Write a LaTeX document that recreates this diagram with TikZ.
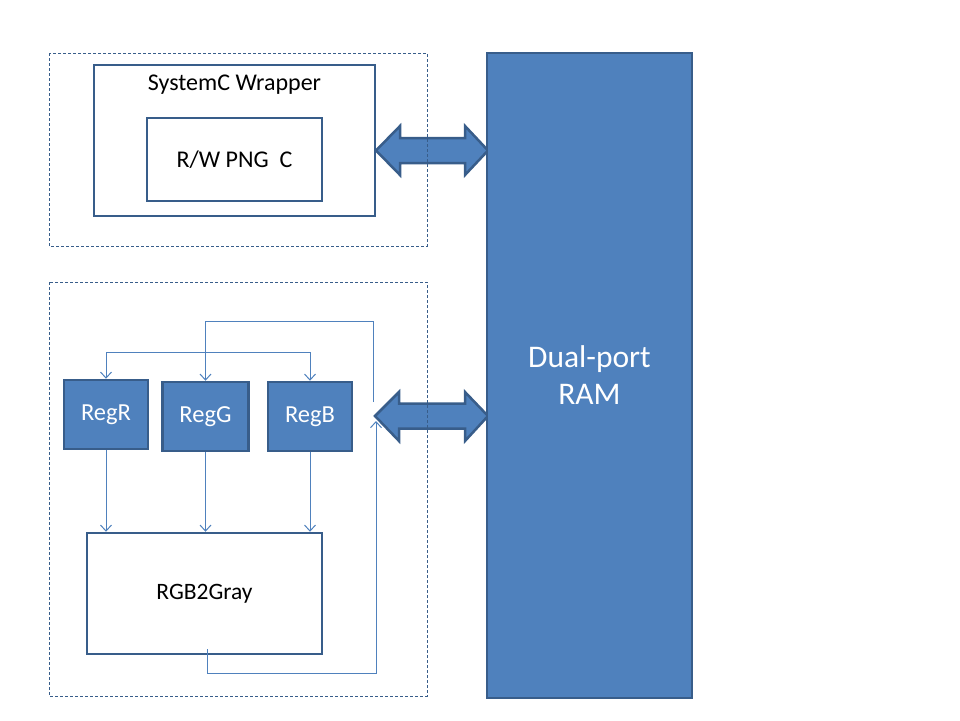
\documentclass[tikz,border=0pt]{standalone}
\usepackage{fontspec}
\setmainfont{Carlito}
\usetikzlibrary{arrows.meta}
\definecolor{fillblue}{HTML}{4F81BD}
\definecolor{edgeblue}{HTML}{385D8A}
\tikzset{
  box/.style={draw=edgeblue, line width=2.5pt, rectangle, inner sep=0pt, align=center},
  regbox/.style={box, fill=fillblue, text=white, font=\fontsize{24.5}{29}\selectfont},
  dashbox/.style={draw=edgeblue, line width=0.9pt, dash pattern=on 3pt off 2pt},
  conn/.style={draw=fillblue, line width=1pt},
  tipv/.style={-{Straight Barb[length=6pt,width=11pt,line width=1pt]}},
  bigarrow/.style={fill=fillblue, draw=edgeblue, line width=2.5pt, line join=miter},
}
\begin{document}
\begin{tikzpicture}[x=1pt,y=-1pt]
\useasboundingbox (0,0) rectangle (960,720);

% big double arrows (drawn under the dashed frames)
\draw[bigarrow] (376,150.5) -- (400,126) -- (400,138) -- (465,138) -- (465,126)
  -- (488,150.5) -- (465,175) -- (465,163) -- (400,163) -- (400,175) -- cycle;
\draw[bigarrow] (375,416) -- (399,392) -- (399,403.5) -- (465,403.5) -- (465,392)
  -- (488,416) -- (465,441) -- (465,428.5) -- (399,428.5) -- (399,441) -- cycle;

% dashed frames
\draw[dashbox] (49,53) rectangle (427,246);
\draw[dashbox] (49,282) rectangle (427,696);

% RAM
\node[box, line width=2pt, fill=fillblue, text=white, minimum width=205pt, minimum height=645pt,
      font=\fontsize{31.5}{37}\selectfont] (ram) at (589.5,375.5) {Dual-port\\RAM};

% SystemC wrapper
\node[box, minimum width=281pt, minimum height=151pt] (wrap) at (234.5,140.5) {};
\node[font=\fontsize{24}{28}\selectfont, inner sep=0pt] (wraplabel) at (234.5,85) {SystemC Wrapper};
\node[box, minimum width=175pt, minimum height=83pt, font=\fontsize{24}{28}\selectfont] (png) at (234.5,159.5) {R/W PNG\ \ C};

% registers
\node[regbox, minimum width=84pt, minimum height=69pt] (regR) at (106,414.5) {RegR};
\node[regbox, minimum width=86pt, minimum height=69pt] (regG) at (205.5,416.5) {RegG};
\node[regbox, minimum width=84pt, minimum height=69pt] (regB) at (310,416.5) {RegB};

% RGB2Gray
\node[box, minimum width=235pt, minimum height=121pt, font=\fontsize{23.5}{28}\selectfont] (gray) at (204.5,593.5) {RGB2Gray};

% connectors
\coordinate (hl) at (106,352);
\coordinate (fbtop) at (373,402);
\coordinate (tr) at (373,321);
\coordinate (fbstart) at (207,649);
\coordinate (fbcorner) at (376,673);
\coordinate (fbend) at (376,421);

\draw[conn, tipv] (hl) -- (regR.north);
\draw[conn, tipv] (hl) -| (regB.north);
\draw[conn, tipv] (fbtop) -- (tr) -| (regG.north);

\draw[conn, tipv] (regR.south) -- (regR.south |- gray.north);
\draw[conn, tipv] (regG.south) -- (regG.south |- gray.north);
\draw[conn, tipv] (regB.south) -- (regB.south |- gray.north);

\draw[conn, tipv] (fbstart) |- (fbcorner) -- (fbend);
\end{tikzpicture}
\end{document}
